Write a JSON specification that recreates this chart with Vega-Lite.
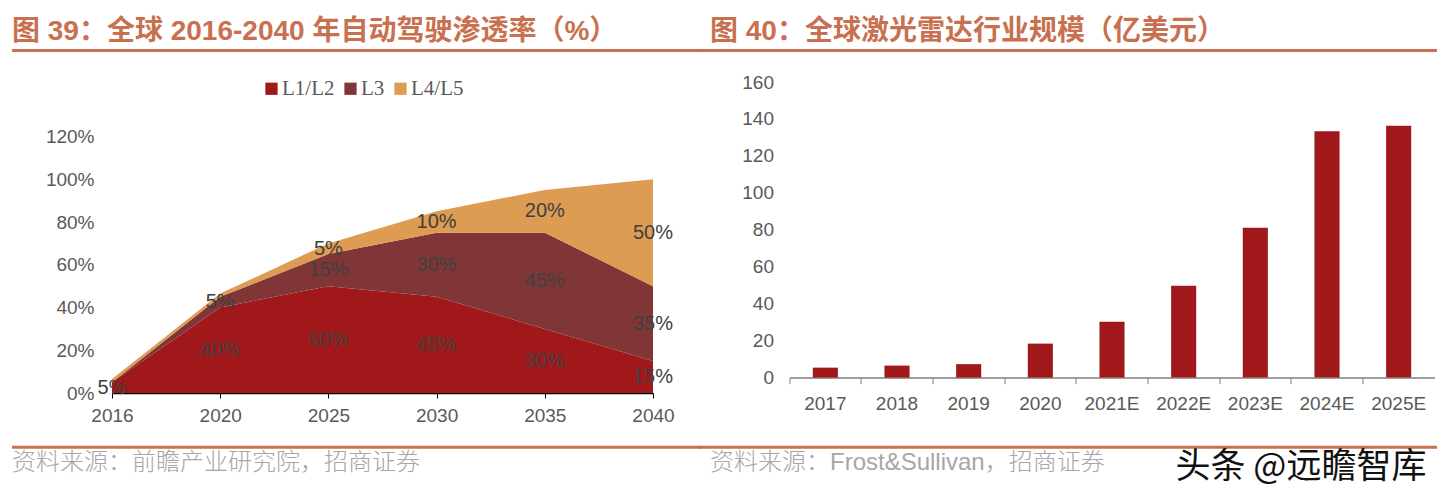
{
  "$schema": "https://vega.github.io/schema/vega-lite/v6.json",
  "autosize": {"type": "pad"},
  "padding": {"left": 0, "top": 0, "right": 16, "bottom": 12},
  "background": "white",
  "bounds": "flush",
  "spacing": 136.5,
  "datasets": {
    "pen": [
      {"year": "2016", "level": "L1/L2", "v": 0.05},
      {"year": "2016", "level": "L3", "v": 0.0},
      {"year": "2016", "level": "L4/L5", "v": 0.015},
      {"year": "2020", "level": "L1/L2", "v": 0.40},
      {"year": "2020", "level": "L3", "v": 0.05},
      {"year": "2020", "level": "L4/L5", "v": 0.015},
      {"year": "2025", "level": "L1/L2", "v": 0.50},
      {"year": "2025", "level": "L3", "v": 0.15},
      {"year": "2025", "level": "L4/L5", "v": 0.05},
      {"year": "2030", "level": "L1/L2", "v": 0.45},
      {"year": "2030", "level": "L3", "v": 0.30},
      {"year": "2030", "level": "L4/L5", "v": 0.10},
      {"year": "2035", "level": "L1/L2", "v": 0.30},
      {"year": "2035", "level": "L3", "v": 0.45},
      {"year": "2035", "level": "L4/L5", "v": 0.20},
      {"year": "2040", "level": "L1/L2", "v": 0.15},
      {"year": "2040", "level": "L3", "v": 0.35},
      {"year": "2040", "level": "L4/L5", "v": 0.50}
    ],
    "lidar": [
      {"year": "2017", "size": 5.4},
      {"year": "2018", "size": 6.5},
      {"year": "2019", "size": 7.3},
      {"year": "2020", "size": 18.4},
      {"year": "2021E", "size": 30.3},
      {"year": "2022E", "size": 49.7},
      {"year": "2023E", "size": 81.1},
      {"year": "2024E", "size": 133.4},
      {"year": "2025E", "size": 136.3}
    ]
  },
  "hconcat": [
    {
      "width": 541,
      "height": 311,
      "layer": [
        {
          "data": {"name": "pen"},
          "transform": [
            {"stack": "v", "groupby": ["year"], "sort": [{"field": "level"}], "as": ["lo", "hi"]}
          ],
          "mark": {"type": "area", "opacity": 1},
          "encoding": {
            "x": {
              "field": "year", "type": "ordinal",
              "scale": {"type": "point", "padding": 0},
              "axis": {
                "title": null, "labelAngle": 0, "domainColor": "#000000", "domainWidth": 1.5,
                "tickColor": "#000000", "tickSize": 5, "tickWidth": 1, "labelPadding": 8,
                "labelFont": "Liberation Sans", "labelFontSize": 19, "labelColor": "#595959"
              }
            },
            "y": {
              "field": "lo", "type": "quantitative",
              "scale": {"domain": [0, 1.455], "nice": false},
              "axis": {
                "title": null, "format": ".0%", "values": [0, 0.2, 0.4, 0.6, 0.8, 1.0, 1.2],
                "grid": false, "domain": false, "ticks": false, "labelPadding": 18,
                "labelFont": "Liberation Sans", "labelFontSize": 19, "labelColor": "#595959"
              }
            },
            "y2": {"field": "hi"},
            "color": {
              "field": "level", "type": "nominal",
              "scale": {"domain": ["L1/L2", "L3", "L4/L5"], "range": ["#A0181A", "#803636", "#DE9B52"]},
              "legend": {
                "title": null, "orient": "none", "direction": "horizontal",
                "legendX": 149, "legendY": -4,
                "symbolType": "square", "symbolSize": 150, "symbolStrokeWidth": 0,
                "labelFont": "Liberation Serif", "labelFontSize": 21, "labelColor": "#595959",
                "labelOffset": 0, "columnPadding": 5
              }
            }
          }
        },
        {
          "data": {"name": "pen"},
          "transform": [
            {"stack": "v", "groupby": ["year"], "sort": [{"field": "level"}], "as": ["lo", "hi"]},
            {"filter": "datum.v >= 0.05"},
            {"calculate": "(datum.lo + datum.hi) / 2", "as": "mid"}
          ],
          "mark": {"type": "text", "font": "Liberation Sans", "fontSize": 20, "color": "#404040", "baseline": "middle", "align": "center"},
          "encoding": {
            "x": {"field": "year", "type": "ordinal"},
            "y": {"field": "mid", "type": "quantitative"},
            "text": {"field": "v", "type": "quantitative", "format": ".0%"}
          }
        },
        {
          "data": {"values": [{}]},
          "mark": {"type": "rule", "strokeWidth": 0, "opacity": 0},
          "encoding": {"x": {"value": -112}, "y": {"value": -81.5}, "y2": {"value": -80}}
        },
        {
          "data": {"values": [{}]},
          "mark": {"type": "rule", "color": "#C8704F", "strokeWidth": 3},
          "encoding": {"x": {"value": -100}, "x2": {"value": 590}, "y": {"value": -31.5}}
        },
        {
          "data": {"values": [{}]},
          "mark": {"type": "rule", "color": "#C8704F", "strokeWidth": 3},
          "encoding": {"x": {"value": -100}, "x2": {"value": 590}, "y": {"value": 365.2}}
        },
        {
          "data": {"values": [{}]},
          "mark": {"type": "text", "text": "图 39：全球 2016-2040 年自动驾驶渗透率（%）", "font": "Liberation Sans, Noto Sans CJK SC", "fontSize": 28, "fontWeight": "bold", "color": "#C8704F", "align": "left", "baseline": "middle"},
          "encoding": {"x": {"value": -100}, "y": {"value": -50.5}}
        },
        {
          "data": {"values": [{}]},
          "mark": {"type": "text", "text": "资料来源：前瞻产业研究院，招商证券", "font": "Noto Sans CJK SC", "fontSize": 24, "fontWeight": 300, "color": "#A6A6A6", "align": "left", "baseline": "middle"},
          "encoding": {"x": {"value": -100}, "y": {"value": 380.5}}
        }
      ]
    },
    {
      "width": 645,
      "height": 311,
      "layer": [
        {
          "data": {"name": "lidar"},
          "mark": {"type": "bar", "color": "#A0181A", "width": {"band": 0.35}},
          "encoding": {
            "x": {
              "field": "year", "type": "ordinal",
              "scale": {"paddingInner": 0, "paddingOuter": 0},
              "axis": {
                "title": null, "labelAngle": 0, "offset": -15.4, "bandPosition": 0,
                "domainColor": "#808080", "domainWidth": 1.5, "tickColor": "#808080", "tickSize": 6,
                "labelPadding": 11, "labelFont": "Liberation Sans", "labelFontSize": 19, "labelColor": "#595959"
              }
            },
            "y": {
              "field": "size", "type": "quantitative",
              "scale": {"domain": [-8.33, 160], "nice": false, "zero": false},
              "axis": {
                "title": null, "values": [0, 20, 40, 60, 80, 100, 120, 140, 160],
                "grid": false, "domain": false, "ticks": false, "labelPadding": 16,
                "labelFont": "Liberation Sans", "labelFontSize": 19, "labelColor": "#595959"
              }
            }
          }
        },
        {
          "data": {"values": [{}]},
          "mark": {"type": "rule", "color": "#C8704F", "strokeWidth": 3},
          "encoding": {"x": {"value": -90}, "x2": {"value": 647.5}, "y": {"value": -31.5}}
        },
        {
          "data": {"values": [{}]},
          "mark": {"type": "rule", "color": "#C8704F", "strokeWidth": 3},
          "encoding": {"x": {"value": -90}, "x2": {"value": 647.5}, "y": {"value": 365.2}}
        },
        {
          "data": {"values": [{}]},
          "mark": {"type": "text", "text": "图 40：全球激光雷达行业规模（亿美元）", "font": "Liberation Sans, Noto Sans CJK SC", "fontSize": 28, "fontWeight": "bold", "color": "#C8704F", "align": "left", "baseline": "middle"},
          "encoding": {"x": {"value": -79.5}, "y": {"value": -50.5}}
        },
        {
          "data": {"values": [{}]},
          "mark": {"type": "text", "text": "资料来源：Frost&Sullivan，招商证券", "font": "Liberation Sans, Noto Sans CJK SC", "fontSize": 24, "fontWeight": 300, "color": "#A6A6A6", "align": "left", "baseline": "middle"},
          "encoding": {"x": {"value": -79.5}, "y": {"value": 380.5}}
        },
        {
          "data": {"values": [{}]},
          "mark": {"type": "text", "text": "头条 @远瞻智库", "font": "Noto Sans CJK SC", "fontSize": 35, "color": "#111111", "align": "left", "baseline": "middle"},
          "encoding": {"x": {"value": 386}, "y": {"value": 385}}
        }
      ]
    }
  ],
  "config": {
    "view": {"stroke": null},
    "font": "Liberation Sans"
  }
}
